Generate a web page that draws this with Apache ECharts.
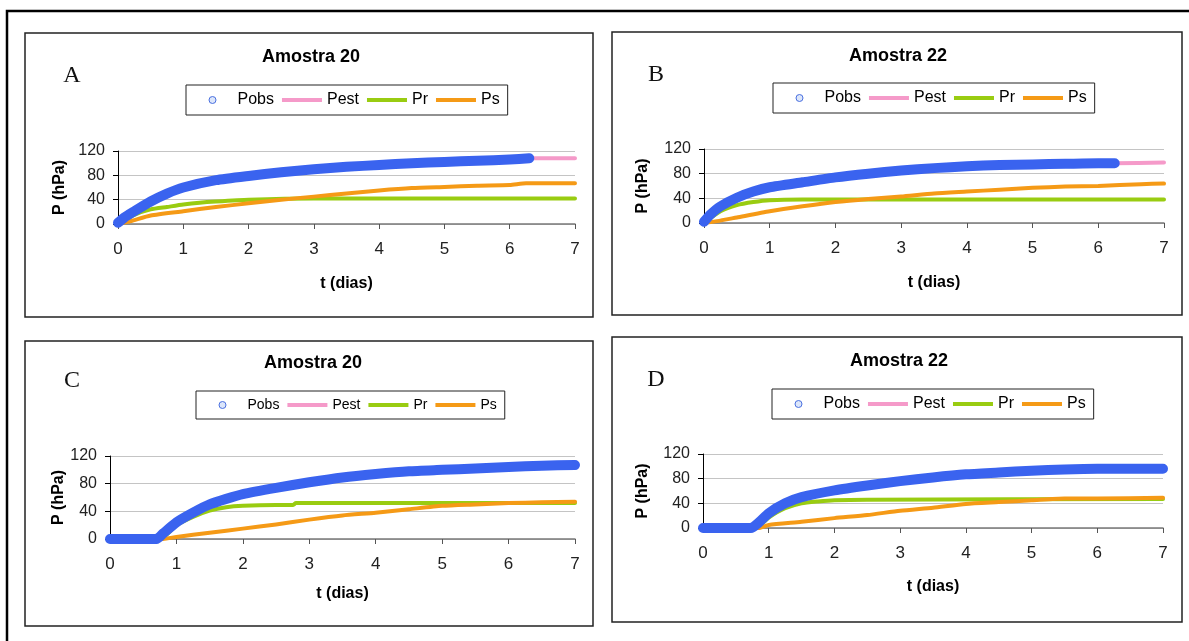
<!DOCTYPE html>
<html>
<head>
<meta charset="utf-8">
<script src="https://cdn.jsdelivr.net/npm/echarts@6/dist/echarts.min.js"></script>
<style>
html, body { margin: 0; padding: 0; background: #fff; }
#chart { width: 1189px; height: 641px; }
</style>
</head>
<body>
<div id="chart"></div>
<script>
// ---- valores (t em dias, P em hPa) ----

// A - Amostra 20
var tObsA  = [0, 0.1, 0.25, 0.5, 0.75, 1, 1.5, 2, 2.5, 3, 3.5, 4, 4.5, 5, 5.5, 6, 6.3];
var pObsA  = [2, 11, 21, 37, 50, 60, 72, 79, 85, 90, 94, 97, 100, 102, 104, 106, 108];
var tEstA  = [0, 0.5, 1, 1.5, 2, 3, 4, 5, 6, 6.3, 7];
var pEstA  = [0, 37, 60, 72, 79, 90, 97, 102, 106, 108, 108];
var tPrA   = [0, 0.25, 0.5, 0.75, 1, 1.25, 1.5, 2, 3, 7];
var pPrA   = [0, 15, 24, 28, 32, 35, 37, 40, 42, 42];
var tPsA   = [0, 0.2, 0.5, 1, 1.5, 2, 2.5, 3, 3.5, 4, 4.5, 5, 5.5, 6, 6.25, 7];
var pPsA   = [0, 5, 14, 21, 28, 34, 40, 45, 50, 55, 59, 61, 63, 64, 67, 67];

// B - Amostra 22
var tObsB  = [0, 0.1, 0.25, 0.5, 0.75, 1, 1.5, 2, 2.5, 3, 3.5, 4, 4.5, 5, 5.5, 6, 6.25];
var pObsB  = [2, 14, 27, 41, 51, 58, 66, 74, 80, 85, 89, 92, 94, 95, 96, 97, 97];
var tEstB  = [0, 0.5, 1, 2, 3, 4, 5, 6, 6.25, 7];
var pEstB  = [0, 41, 58, 74, 85, 92, 95, 97, 97, 98];
var tPrB   = [0, 0.25, 0.5, 0.75, 1, 1.5, 2, 7];
var pPrB   = [0, 19, 29, 34, 37, 38, 38, 38];
var tPsB   = [0, 0.2, 0.5, 1, 1.5, 2, 2.5, 3, 3.5, 4, 4.5, 5, 5.5, 6, 6.65, 7];
var pPsB   = [0, 3, 9, 19, 27, 34, 39, 43, 48, 51, 54, 57, 59, 60, 63, 64];

// C - Amostra 20
var tObsC  = [0, 0.3, 0.7, 0.8, 1, 1.25, 1.5, 1.75, 2, 2.5, 3, 3.5, 4, 4.5, 5, 5.5, 6, 6.5, 7];
var pObsC  = [0, 0, 0, 8, 24, 38, 50, 58, 65, 74, 82, 89, 94, 98, 100, 102, 104, 106, 107];
var tEstC  = [0, 0.7, 1, 1.5, 2, 3, 4, 5, 6, 7];
var pEstC  = [0, 0, 24, 50, 65, 82, 94, 100, 104, 107];
var tPrC   = [0, 0.75, 1, 1.25, 1.5, 1.75, 2, 2.5, 2.75, 2.8, 7];
var pPrC   = [0, 0, 20, 32, 41, 46, 48, 49, 49, 52, 52];
var tPsC   = [0, 0.8, 1, 1.5, 2, 2.5, 3, 3.5, 4, 4.5, 5, 5.5, 6, 6.5, 7];
var pPsC   = [0, 0, 3, 9, 15, 21, 28, 34, 38, 43, 48, 50, 52, 53, 54];

// D - Amostra 22
var tObsD  = [0, 0.3, 0.73, 0.86, 1, 1.25, 1.5, 2, 2.5, 3, 3.5, 4, 4.5, 5, 5.5, 6, 6.5, 7];
var pObsD  = [0, 0, 0, 10, 24, 40, 50, 61, 69, 76, 82, 87, 90, 93, 95, 96, 96, 96];
var tEstD  = [0, 0.73, 1, 1.5, 2, 3, 4, 5, 6, 7];
var pEstD  = [0, 0, 24, 50, 61, 76, 87, 93, 96, 96];
var tPrD   = [0, 0.8, 1, 1.25, 1.5, 1.75, 2, 2.5, 7];
var pPrD   = [0, 0, 17, 32, 40, 43, 45, 46, 47];
var tPsD   = [0, 0.85, 1, 1.5, 2, 2.5, 3, 3.5, 4, 4.5, 5, 5.5, 6, 7];
var pPsD   = [0, 0, 5, 10, 16, 21, 28, 33, 39, 42, 45, 48, 48, 49];

var xTicks = { min: 0, max: 7, step: 1 };
var yTicks = { min: 0, max: 120, step: 40 };

var FONT = 'Liberation Sans';
var cores = { Pobs: '#3a63ef', Pest: '#f59ac9', Pr: '#99cc11', Ps: '#f59a16' };

// layout dos quatro paineis
var panels = [
    { letter: 'A', title: 'Amostra 20', box: [25, 33, 568, 284], title_xy: [311, 57], letter_xy: [72, 76],
      grid: { left: 118, top: 151, width: 457, height: 73 }, legend: { left: 186, top: 85 }, legFont: 16, gapX: 52, gapY: 50,
      data: { Pobs: [tObsA, pObsA], Pest: [tEstA, pEstA], Pr: [tPrA, pPrA], Ps: [tPsA, pPsA] } },
    { letter: 'B', title: 'Amostra 22', box: [612, 32, 570, 283], title_xy: [898, 56], letter_xy: [656, 75],
      grid: { left: 704, top: 149, width: 460, height: 74 }, legend: { left: 773, top: 83 }, legFont: 16, gapX: 52, gapY: 53,
      data: { Pobs: [tObsB, pObsB], Pest: [tEstB, pEstB], Pr: [tPrB, pPrB], Ps: [tPsB, pPsB] } },
    { letter: 'C', title: 'Amostra 20', box: [25, 341, 568, 285], title_xy: [313, 363], letter_xy: [72, 381],
      grid: { left: 110, top: 456, width: 465, height: 83 }, legend: { left: 196, top: 391 }, legFont: 14, gapX: 47, gapY: 43,
      data: { Pobs: [tObsC, pObsC], Pest: [tEstC, pEstC], Pr: [tPrC, pPrC], Ps: [tPsC, pPsC] } },
    { letter: 'D', title: 'Amostra 22', box: [612, 337, 570, 285], title_xy: [899, 361], letter_xy: [656, 380],
      grid: { left: 703, top: 454, width: 460, height: 74 }, legend: { left: 772, top: 389 }, legFont: 16, gapX: 51, gapY: 52,
      data: { Pobs: [tObsD, pObsD], Pest: [tEstD, pEstD], Pr: [tPrD, pPrD], Ps: [tPsD, pPsD] } }
];

function pares(t, p) {
    return t.map(function (v, i) { return [v, p[i]]; });
}

// icones da legenda (caixa 40x10; os dois M iniciais so fixam o tamanho)
var iconeCirculo = 'path://M0,0 M40,10 M23.5,5a3.5,3.5 0 1,0 -7,0a3.5,3.5 0 1,0 7,0z';
var iconeLinha = 'path://M0,0L40,0L40,4L0,4Z';

var grids = [], xAxes = [], yAxes = [], series = [], legends = [], graphics = [];

// moldura externa
graphics.push({ type: 'rect', silent: true, shape: { x: 7, y: 11, width: 1200, height: 650 },
    style: { fill: 'none', stroke: '#000', lineWidth: 2.5 } });

panels.forEach(function (pn, i) {
    grids.push({ left: pn.grid.left, top: pn.grid.top, width: pn.grid.width, height: pn.grid.height });

    xAxes.push({
        type: 'value', gridIndex: i, min: xTicks.min, max: xTicks.max, interval: xTicks.step,
        name: 't (dias)', nameLocation: 'middle', nameGap: pn.gapX,
        nameTextStyle: { fontFamily: FONT, fontWeight: 'bold', fontSize: 16, color: '#000' },
        axisLine: { show: true, onZero: false, lineStyle: { color: '#7a7a7a', width: 1.5 } },
        axisTick: { show: true, inside: false, length: 5, lineStyle: { color: '#555' } },
        axisLabel: { margin: 17, fontFamily: FONT, fontSize: 17, color: '#222' },
        splitLine: { show: false }
    });

    yAxes.push({
        type: 'value', gridIndex: i, min: yTicks.min, max: yTicks.max, interval: yTicks.step,
        name: 'P (hPa)', nameLocation: 'middle', nameGap: pn.gapY, nameRotate: 90,
        nameTextStyle: { fontFamily: FONT, fontWeight: 'bold', fontSize: 16, color: '#000' },
        axisLine: { show: true, lineStyle: { color: '#000', width: 1 } },
        axisTick: { show: true, inside: false, length: 5, lineStyle: { color: '#000' } },
        axisLabel: { margin: 13, fontFamily: FONT, fontSize: 16, color: '#222' },
        splitLine: { show: true, lineStyle: { color: '#c4c4c4', width: 1 } }
    });

    // ordem de desenho: Pest, Pr, Ps e por cima Pobs
    ['Pest', 'Pr', 'Ps', 'Pobs'].forEach(function (nome) {
        var d = pn.data[nome];
        var largura = nome === 'Pobs' ? 10 : 4;
        series.push({
            type: 'line', name: nome, xAxisIndex: i, yAxisIndex: i,
            data: pares(d[0], d[1]),
            showSymbol: false, symbol: 'none', smooth: 0.2,
            itemStyle: { color: cores[nome] },
            lineStyle: { color: cores[nome], width: largura, cap: 'round', join: 'round' },
            z: nome === 'Pobs' ? 5 : 3,
            silent: true
        });
    });

    legends.push({
        left: pn.legend.left, top: pn.legend.top, orient: 'horizontal',
        padding: [7, 8, 7, 6], itemGap: 8, itemWidth: 40, itemHeight: 10,
        borderColor: '#222', borderWidth: 1, selectedMode: false,
        textStyle: { fontFamily: FONT, fontSize: pn.legFont, color: '#000' },
        data: [
            { name: 'Pobs', icon: iconeCirculo, itemStyle: { color: '#dce6fa', borderColor: '#4a70e0', borderWidth: 1 } },
            { name: 'Pest', icon: iconeLinha },
            { name: 'Pr', icon: iconeLinha },
            { name: 'Ps', icon: iconeLinha }
        ]
    });

    graphics.push({ type: 'rect', silent: true,
        shape: { x: pn.box[0], y: pn.box[1], width: pn.box[2], height: pn.box[3] },
        style: { fill: 'none', stroke: '#222', lineWidth: 1.5 } });
    graphics.push({ type: 'text', silent: true, x: pn.title_xy[0], y: pn.title_xy[1],
        style: { text: pn.title, font: 'bold 18px "Liberation Sans"', fill: '#000', align: 'center', verticalAlign: 'middle' } });
    graphics.push({ type: 'text', silent: true, x: pn.letter_xy[0], y: pn.letter_xy[1],
        style: { text: pn.letter, font: '24px "Liberation Serif"', fill: '#111', align: 'center', verticalAlign: 'middle' } });
});

var chart = echarts.init(document.getElementById('chart'));
chart.setOption({
    backgroundColor: '#fff',
    animation: false,
    textStyle: { fontFamily: FONT },
    grid: grids,
    xAxis: xAxes,
    yAxis: yAxes,
    legend: legends,
    series: series,
    graphic: graphics
});
</script>
</body>
</html>
